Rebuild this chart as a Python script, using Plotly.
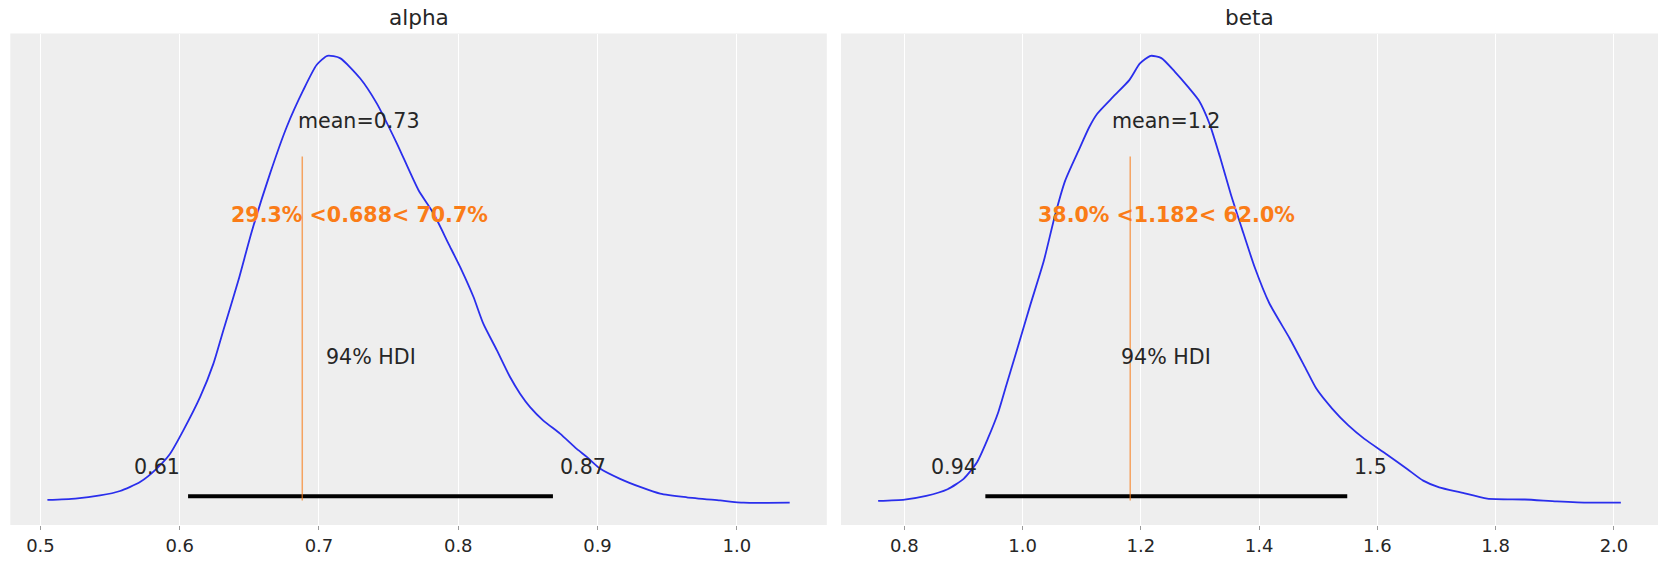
import plotly.graph_objects as go

# ---------------- data ----------------
params = ["alpha", "beta"]

alpha_x = [0.5050, 0.5250, 0.5428, 0.5572, 0.5715, 0.5835, 0.5931, 0.6026, 0.6146,
           0.6242, 0.6313, 0.6420, 0.6517, 0.6649, 0.6769, 0.6888, 0.6984, 0.7060,
           0.7151, 0.7295, 0.7415, 0.7559, 0.7714, 0.7822, 0.7929, 0.8025, 0.8109,
           0.8180, 0.8277, 0.8372, 0.8444, 0.8516, 0.8611, 0.8731, 0.8851, 0.8923,
           0.9018, 0.9162, 0.9306, 0.9450, 0.9641, 0.9880, 1.0050, 1.0380]
alpha_density = [0.012, 0.015, 0.022, 0.032, 0.052, 0.082, 0.115, 0.167, 0.241,
                 0.316, 0.390, 0.500, 0.610, 0.740, 0.844, 0.926, 0.982, 1.002,
                 0.997, 0.952, 0.896, 0.807, 0.703, 0.651, 0.584, 0.524, 0.465,
                 0.405, 0.346, 0.286, 0.249, 0.219, 0.189, 0.160, 0.126, 0.108,
                 0.082, 0.059, 0.041, 0.026, 0.018, 0.011, 0.006, 0.006]

beta_x = [0.7557, 0.8005, 0.8370, 0.8732, 0.9003, 0.9229, 0.9410, 0.9590, 0.9726,
          0.9861, 0.9997, 1.0132, 1.0358, 1.0539, 1.0720, 1.0946, 1.1126, 1.1262,
          1.1533, 1.1804, 1.1985, 1.2166, 1.2347, 1.2572, 1.2798, 1.2979, 1.3160,
          1.3340, 1.3521, 1.3702, 1.3928, 1.4172, 1.4515, 1.4786, 1.4967, 1.5238,
          1.5509, 1.5780, 1.6141, 1.6503, 1.6774, 1.7045, 1.7407, 1.7858, 1.8490,
          1.9033, 1.9575, 2.0117]
beta_density = [0.010, 0.013, 0.021, 0.036, 0.059, 0.096, 0.148, 0.208, 0.268,
                0.327, 0.387, 0.447, 0.544, 0.641, 0.723, 0.790, 0.842, 0.872,
                0.910, 0.947, 0.984, 1.001, 0.996, 0.966, 0.932, 0.902, 0.850,
                0.775, 0.693, 0.619, 0.529, 0.450, 0.372, 0.305, 0.260, 0.215,
                0.178, 0.148, 0.115, 0.081, 0.055, 0.040, 0.029, 0.015, 0.013,
                0.009, 0.006, 0.006]

means = [0.729, 1.243]
ref_vals = [0.688, 1.182]
ref_below = [29.3, 38.0]
ref_above = [70.7, 62.0]
hdi_low = [0.606, 0.937]
hdi_high = [0.868, 1.549]
hdi_prob_label = "94% HDI"

alpha_ticks = [0.5, 0.6, 0.7, 0.8, 0.9, 1.0]
beta_ticks = [0.8, 1.0, 1.2, 1.4, 1.6, 1.8, 2.0]

# ---------------- styling ----------------
W, H = 1667, 563
KDE_COLOR = "#2a2eec"
REF_COLOR = "#fa7c17"
TEXT_COLOR = "#262626"
BG = "#eeeeee"
FONT = "DejaVu Sans"
LABEL_SIZE = 20.6
TICK_SIZE = 18
TITLE_SIZE = 21.6

x_domains = [[10.3 / W, 826.8 / W], [841.0 / W, 1658.0 / W]]
y_domain = [1 - 525.0 / H, 1 - 33.5 / H]

fig = go.Figure()

xs_all = [alpha_x, beta_x]
ds_all = [alpha_density, beta_density]
ticks_all = [alpha_ticks, beta_ticks]

annotations = []
shapes = []

# shift that puts a text baseline on its anchor (pad + descent)
BASE = -(2 + 0.236 * LABEL_SIZE)

for i in range(2):
    xa = "x" if i == 0 else "x2"
    ya = "y" if i == 0 else "y2"
    xs = xs_all[i]
    ds = ds_all[i]
    max_d = max(ds)
    min_d = min(ds)
    R = max_d - min_d
    y_lo, y_hi = min_d - 0.05 * R, max_d + 0.05 * R
    xr = max(xs) - min(xs)
    x_lo, x_hi = min(xs) - 0.05 * xr, max(xs) + 0.05 * xr

    fig.add_trace(go.Scatter(x=xs, y=ds, mode="lines", xaxis=xa, yaxis=ya,
                             line=dict(color=KDE_COLOR, width=1.8, shape="spline", smoothing=0.6),
                             showlegend=False, hoverinfo="skip"))
    # HDI bar
    fig.add_trace(go.Scatter(x=[hdi_low[i], hdi_high[i]], y=[max_d * 0.02, max_d * 0.02],
                             mode="lines", xaxis=xa, yaxis=ya,
                             line=dict(color="black", width=4),
                             showlegend=False, hoverinfo="skip"))
    # reference line
    shapes.append(dict(type="line", xref=xa, yref=f"{ya} domain",
                       x0=ref_vals[i], x1=ref_vals[i], y0=0.05, y1=0.75,
                       line=dict(color=REF_COLOR, width=1.5), opacity=0.65))

    lab_font = dict(family=FONT, size=LABEL_SIZE, color=TEXT_COLOR)
    # mean text
    annotations.append(dict(x=means[i], y=0.8 * y_hi, xref=xa, yref=ya,
                            text=f"mean={means[i]:.2g}", showarrow=False,
                            xanchor="center", yanchor="bottom", yshift=BASE, font=lab_font))
    # ref text
    annotations.append(dict(x=means[i], y=0.6 * y_hi, xref=xa, yref=ya,
                            text=f"<b>{ref_below[i]:.1f}% &lt;{ref_vals[i]:.3f}&lt; {ref_above[i]:.1f}%</b>",
                            showarrow=False, xanchor="center", yanchor="bottom", yshift=BASE,
                            font=dict(family=FONT, size=LABEL_SIZE, color=REF_COLOR)))
    # HDI texts
    annotations.append(dict(x=(hdi_low[i] + hdi_high[i]) / 2, y=0.3 * max_d, xref=xa, yref=ya,
                            text=hdi_prob_label, showarrow=False, xanchor="center",
                            yanchor="bottom", yshift=0, font=lab_font))
    annotations.append(dict(x=hdi_low[i], y=0.07 * max_d, xref=xa, yref=ya,
                            text=f"{hdi_low[i]:.2g}", showarrow=False, xanchor="right",
                            xshift=-6, yanchor="bottom", yshift=BASE, font=lab_font))
    annotations.append(dict(x=hdi_high[i], y=0.07 * max_d, xref=xa, yref=ya,
                            text=f"{hdi_high[i]:.2g}", showarrow=False, xanchor="left",
                            xshift=5, yanchor="bottom", yshift=BASE, font=lab_font))
    # title
    annotations.append(dict(x=(x_domains[i][0] + x_domains[i][1]) / 2, y=1 - 17.5 / H,
                            xref="paper", yref="paper", text=params[i], showarrow=False,
                            xanchor="center", yanchor="middle",
                            font=dict(family=FONT, size=TITLE_SIZE, color=TEXT_COLOR)))

    xkey = "xaxis" if i == 0 else "xaxis2"
    ykey = "yaxis" if i == 0 else "yaxis2"
    fig.update_layout(**{
        xkey: dict(domain=x_domains[i], range=[x_lo, x_hi], anchor=ya,
                   tickvals=ticks_all[i], ticktext=[f"{t:.1f}" for t in ticks_all[i]],
                   showgrid=True, gridcolor="white", gridwidth=1, zeroline=False,
                   showline=False, ticks="outside", ticklen=3.5, tickwidth=1,
                   tickcolor="#9a9a9a", ticklabelstandoff=1,
                   tickfont=dict(family=FONT, size=TICK_SIZE, color=TEXT_COLOR)),
        ykey: dict(domain=y_domain, range=[y_lo, y_hi], anchor=xa,
                   showgrid=False, zeroline=False, showticklabels=False,
                   showline=False, ticks=""),
    })

fig.update_layout(width=W, height=H, autosize=False,
                  margin=dict(l=0, r=0, t=0, b=0),
                  paper_bgcolor="white", plot_bgcolor=BG,
                  annotations=annotations, shapes=shapes,
                  font=dict(family=FONT, color=TEXT_COLOR))

fig.write_html("out.html")
